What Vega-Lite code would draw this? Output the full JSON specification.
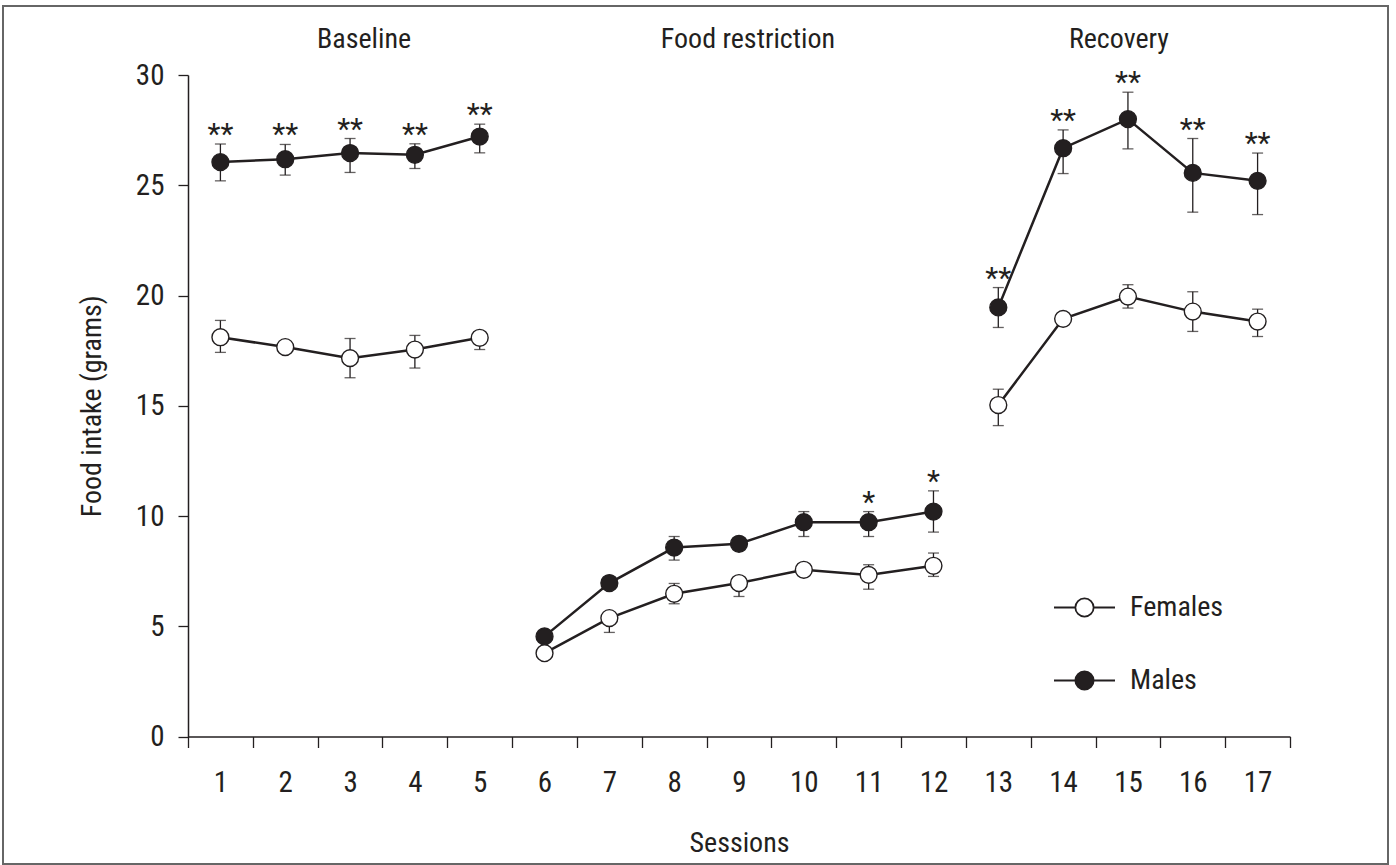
{
  "$schema": "https://vega.github.io/schema/vega-lite/v6.json",
  "width": 1385,
  "height": 858,
  "autosize": {"type": "none"},
  "padding": {"left": 3, "top": 6, "right": 8, "bottom": 1},
  "background": "white",
  "config": {
    "view": {"stroke": "#666666", "strokeWidth": 2, "fill": "white"},
    "font": "Roboto Condensed, Liberation Sans Narrow, DejaVu Sans Condensed, sans-serif",
    "axis": {
      "grid": false,
      "domainColor": "#231f20",
      "tickColor": "#231f20",
      "labelColor": "#231f20",
      "titleColor": "#231f20",
      "labelFontSize": 29,
      "titleFontSize": 28,
      "titleFontWeight": "normal",
      "domainWidth": 1.5,
      "tickWidth": 1.3
    },
    "text": {"color": "#231f20", "fontSize": 28}
  },
  "data": {
    "values": [
      {"session": 1, "phase": "Baseline", "group": "Males", "mean": 26.05, "lo": 25.2, "hi": 26.87, "sig": "**"},
      {"session": 2, "phase": "Baseline", "group": "Males", "mean": 26.18, "lo": 25.46, "hi": 26.85, "sig": "**"},
      {"session": 3, "phase": "Baseline", "group": "Males", "mean": 26.46, "lo": 25.58, "hi": 27.12, "sig": "**"},
      {"session": 4, "phase": "Baseline", "group": "Males", "mean": 26.38, "lo": 25.76, "hi": 26.88, "sig": "**"},
      {"session": 5, "phase": "Baseline", "group": "Males", "mean": 27.21, "lo": 26.47, "hi": 27.77, "sig": "**"},
      {"session": 6, "phase": "Food restriction", "group": "Males", "mean": 4.54, "lo": null, "hi": null, "sig": null},
      {"session": 7, "phase": "Food restriction", "group": "Males", "mean": 6.96, "lo": null, "hi": null, "sig": null},
      {"session": 8, "phase": "Food restriction", "group": "Males", "mean": 8.57, "lo": 8.0, "hi": 9.07, "sig": null},
      {"session": 9, "phase": "Food restriction", "group": "Males", "mean": 8.74, "lo": null, "hi": null, "sig": null},
      {"session": 10, "phase": "Food restriction", "group": "Males", "mean": 9.72, "lo": 9.07, "hi": 10.2, "sig": null},
      {"session": 11, "phase": "Food restriction", "group": "Males", "mean": 9.72, "lo": 9.07, "hi": 10.2, "sig": "*"},
      {"session": 12, "phase": "Food restriction", "group": "Males", "mean": 10.2, "lo": 9.27, "hi": 11.14, "sig": "*"},
      {"session": 13, "phase": "Recovery", "group": "Males", "mean": 19.46, "lo": 18.55, "hi": 20.36, "sig": "**"},
      {"session": 14, "phase": "Recovery", "group": "Males", "mean": 26.68, "lo": 25.53, "hi": 27.51, "sig": "**"},
      {"session": 15, "phase": "Recovery", "group": "Males", "mean": 28.0, "lo": 26.65, "hi": 29.22, "sig": "**"},
      {"session": 16, "phase": "Recovery", "group": "Males", "mean": 25.56, "lo": 23.78, "hi": 27.12, "sig": "**"},
      {"session": 17, "phase": "Recovery", "group": "Males", "mean": 25.2, "lo": 23.67, "hi": 26.46, "sig": "**"},
      {"session": 1, "phase": "Baseline", "group": "Females", "mean": 18.11, "lo": 17.42, "hi": 18.87, "sig": null},
      {"session": 2, "phase": "Baseline", "group": "Females", "mean": 17.66, "lo": null, "hi": null, "sig": null},
      {"session": 3, "phase": "Baseline", "group": "Females", "mean": 17.16, "lo": 16.27, "hi": 18.05, "sig": null},
      {"session": 4, "phase": "Baseline", "group": "Females", "mean": 17.55, "lo": 16.71, "hi": 18.19, "sig": null},
      {"session": 5, "phase": "Baseline", "group": "Females", "mean": 18.08, "lo": 17.55, "hi": null, "sig": null},
      {"session": 6, "phase": "Food restriction", "group": "Females", "mean": 3.78, "lo": null, "hi": null, "sig": null},
      {"session": 7, "phase": "Food restriction", "group": "Females", "mean": 5.37, "lo": 4.72, "hi": null, "sig": null},
      {"session": 8, "phase": "Food restriction", "group": "Females", "mean": 6.47, "lo": 6.02, "hi": 6.94, "sig": null},
      {"session": 9, "phase": "Food restriction", "group": "Females", "mean": 6.96, "lo": 6.35, "hi": null, "sig": null},
      {"session": 10, "phase": "Food restriction", "group": "Females", "mean": 7.56, "lo": null, "hi": null, "sig": null},
      {"session": 11, "phase": "Food restriction", "group": "Females", "mean": 7.33, "lo": 6.68, "hi": 7.79, "sig": null},
      {"session": 12, "phase": "Food restriction", "group": "Females", "mean": 7.74, "lo": 7.26, "hi": 8.32, "sig": null},
      {"session": 13, "phase": "Recovery", "group": "Females", "mean": 15.03, "lo": 14.1, "hi": 15.75, "sig": null},
      {"session": 14, "phase": "Recovery", "group": "Females", "mean": 18.94, "lo": null, "hi": null, "sig": null},
      {"session": 15, "phase": "Recovery", "group": "Females", "mean": 19.95, "lo": 19.43, "hi": 20.49, "sig": null},
      {"session": 16, "phase": "Recovery", "group": "Females", "mean": 19.27, "lo": 18.37, "hi": 20.17, "sig": null},
      {"session": 17, "phase": "Recovery", "group": "Females", "mean": 18.82, "lo": 18.14, "hi": 19.38, "sig": null}
    ]
  },
  "encoding": {
    "x": {
      "field": "session",
      "type": "ordinal",
      "scale": {"type": "band", "range": [185, 1287], "paddingInner": 0, "paddingOuter": 0},
      "axis": {
        "title": "Sessions",
        "labelAngle": 0,
        "tickBand": "extent",
        "offset": -127.5,
        "tickSize": 11,
        "labelPadding": 21,
        "titlePadding": 32
      }
    }
  },
  "layer": [
    {
      "mark": {"type": "line", "color": "#231f20", "strokeWidth": 2.5},
      "encoding": {
        "y": {"field": "mean", "type": "quantitative", "scale": {"domain": [0, 30], "range": [730.5, 69], "nice": false},
              "axis": {"title": "Food intake (grams)", "values": [0, 5, 10, 15, 20, 25, 30], "offset": -185, "tickSize": 10, "labelPadding": 14, "titlePadding": 29}},
        "detail": [{"field": "group"}, {"field": "phase"}]
      }
    },
    {
      "transform": [{"filter": "isValid(datum.lo)"}],
      "mark": {"type": "rule", "color": "#231f20", "strokeWidth": 1.3},
      "encoding": {
        "y": {"field": "lo", "type": "quantitative", "scale": {"domain": [0, 30], "range": [730.5, 69], "nice": false}, "title": "Food intake (grams)"},
        "y2": {"field": "mean"}
      }
    },
    {
      "transform": [{"filter": "isValid(datum.hi)"}],
      "mark": {"type": "rule", "color": "#231f20", "strokeWidth": 1.3},
      "encoding": {
        "y": {"field": "mean", "type": "quantitative", "scale": {"domain": [0, 30], "range": [730.5, 69], "nice": false}, "title": "Food intake (grams)"},
        "y2": {"field": "hi"}
      }
    },
    {
      "transform": [{"filter": "isValid(datum.lo)"}],
      "mark": {"type": "tick", "color": "#231f20", "orient": "horizontal", "size": 11, "thickness": 1.3},
      "encoding": {
        "y": {"field": "lo", "type": "quantitative", "scale": {"domain": [0, 30], "range": [730.5, 69], "nice": false}, "title": "Food intake (grams)"}
      }
    },
    {
      "transform": [{"filter": "isValid(datum.hi)"}],
      "mark": {"type": "tick", "color": "#231f20", "orient": "horizontal", "size": 11, "thickness": 1.3},
      "encoding": {
        "y": {"field": "hi", "type": "quantitative", "scale": {"domain": [0, 30], "range": [730.5, 69], "nice": false}, "title": "Food intake (grams)"}
      }
    },
    {
      "mark": {"type": "point", "shape": "circle", "filled": true, "size": 285, "stroke": "#231f20", "strokeWidth": 1.4, "opacity": 1},
      "encoding": {
        "y": {"field": "mean", "type": "quantitative", "scale": {"domain": [0, 30], "range": [730.5, 69], "nice": false}, "title": "Food intake (grams)"},
        "fill": {
          "field": "group",
          "type": "nominal",
          "scale": {"domain": ["Females", "Males"], "range": ["white", "#231f20"]},
          "legend": {
            "orient": "none",
            "legendX": 1050,
            "legendY": 570,
            "title": null,
            "padding": 0,
            "symbolType": "M-1,0H-0.3M0.3,0H1M-0.3,0A0.3,0.3,0,1,1,0.3,0A0.3,0.3,0,1,1,-0.3,0Z",
            "symbolSize": 3721,
            "symbolStrokeColor": "#231f20",
            "symbolStrokeWidth": 1.8,
            "symbolOpacity": 1,
            "labelFontSize": 28,
            "labelColor": "#231f20",
            "labelOffset": 14,
            "rowPadding": 27
          }
        }
      }
    },
    {
      "transform": [{"filter": "isValid(datum.sig)"}],
      "mark": {"type": "text", "baseline": "alphabetic", "align": "center", "fontSize": 30},
      "encoding": {
        "y": {"field": "hi", "type": "quantitative", "scale": {"domain": [0, 30], "range": [730.5, 69], "nice": false}, "title": "Food intake (grams)"},
        "text": {"field": "sig"}
      }
    },
    {
      "data": {"values": [{"phase": "Baseline"}]},
      "mark": {"type": "text", "baseline": "middle", "dx": 14},
      "encoding": {
        "x": {"datum": 3, "type": "ordinal"},
        "y": {"datum": 31.6, "type": "quantitative", "scale": {"domain": [0, 30], "range": [730.5, 69], "nice": false}, "title": "Food intake (grams)"},
        "text": {"field": "phase"}
      }
    },
    {
      "data": {"values": [{"phase": "Food restriction"}]},
      "mark": {"type": "text", "baseline": "middle", "dx": 9},
      "encoding": {
        "x": {"datum": 9, "type": "ordinal"},
        "y": {"datum": 31.6, "type": "quantitative", "scale": {"domain": [0, 30], "range": [730.5, 69], "nice": false}, "title": "Food intake (grams)"},
        "text": {"field": "phase"}
      }
    },
    {
      "data": {"values": [{"phase": "Recovery"}]},
      "mark": {"type": "text", "baseline": "middle", "dx": -9},
      "encoding": {
        "x": {"datum": 15, "type": "ordinal"},
        "y": {"datum": 31.6, "type": "quantitative", "scale": {"domain": [0, 30], "range": [730.5, 69], "nice": false}, "title": "Food intake (grams)"},
        "text": {"field": "phase"}
      }
    }
  ]
}
